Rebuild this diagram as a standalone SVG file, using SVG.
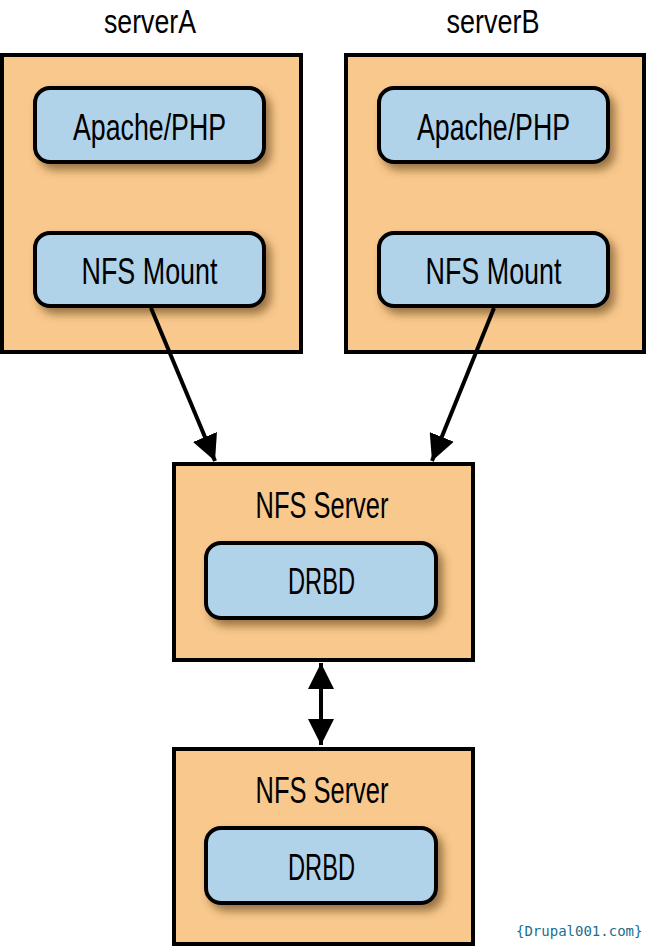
<svg xmlns="http://www.w3.org/2000/svg" width="647" height="947" viewBox="0 0 647 947">
<defs>
<style>
.outer{fill:#f8c88d;stroke:#000;stroke-width:4}
.inner{fill:#b1d3e9;stroke:#000;stroke-width:4;filter:url(#sh)}
.t{font-family:"Liberation Sans",Arial,sans-serif;font-size:36px;fill:#000;text-anchor:middle}
.h{font-family:"Liberation Sans",Arial,sans-serif;font-size:33px;fill:#000;text-anchor:middle}
.ln{stroke:#000;stroke-width:4;fill:none}
.wm{font-family:"DejaVu Sans Mono",monospace;font-size:14px;fill:#1a6e8e}
</style>
<filter id="sh" x="-20%" y="-30%" width="150%" height="180%">
<feDropShadow dx="5" dy="6" stdDeviation="4" flood-color="#5a3a10" flood-opacity="0.6"/>
</filter>
<marker id="ah" viewBox="0 0 10 10" refX="10" refY="5" markerWidth="6.5" markerHeight="6.5" markerUnits="strokeWidth" orient="auto-start-reverse">
<path d="M0,0 L10,5 L0,10 Z" fill="#000"/>
</marker>
</defs>
<g id="serverA">
<text class="h" x="150" y="33" textLength="92" lengthAdjust="spacingAndGlyphs">serverA</text>
<rect class="outer" x="2" y="55" width="299" height="297"/>
<g id="serverA-apache">
<rect class="inner" x="35" y="88" width="229" height="74" rx="15"/>
<text class="t" x="149.5" y="140" textLength="153" lengthAdjust="spacingAndGlyphs">Apache/PHP</text>
</g>
<g id="serverA-nfsmount">
<rect class="inner" x="35" y="233" width="229" height="73" rx="15"/>
<text class="t" x="149.5" y="284" textLength="136" lengthAdjust="spacingAndGlyphs">NFS Mount</text>
</g>
</g>
<g id="serverB">
<text class="h" x="493" y="33" textLength="93" lengthAdjust="spacingAndGlyphs">serverB</text>
<rect class="outer" x="346" y="55" width="298" height="297"/>
<g id="serverB-apache">
<rect class="inner" x="379" y="88" width="229" height="74" rx="15"/>
<text class="t" x="493.5" y="140" textLength="153" lengthAdjust="spacingAndGlyphs">Apache/PHP</text>
</g>
<g id="serverB-nfsmount">
<rect class="inner" x="379" y="233" width="229" height="73" rx="15"/>
<text class="t" x="493.5" y="284" textLength="136" lengthAdjust="spacingAndGlyphs">NFS Mount</text>
</g>
</g>
<g id="nfs1">
<rect class="outer" x="174" y="464" width="299" height="196"/>
<text class="t" x="322" y="518" textLength="133" lengthAdjust="spacingAndGlyphs">NFS Server</text>
<g id="drbd1">
<rect class="inner" x="206" y="543" width="230" height="75" rx="15"/>
<text class="t" x="321.5" y="594" textLength="67" lengthAdjust="spacingAndGlyphs">DRBD</text>
</g>
</g>
<g id="nfs2">
<rect class="outer" x="174" y="749" width="299" height="195"/>
<text class="t" x="322" y="803" textLength="133" lengthAdjust="spacingAndGlyphs">NFS Server</text>
<g id="drbd2">
<rect class="inner" x="206" y="828" width="230" height="75" rx="15"/>
<text class="t" x="321.5" y="880" textLength="67" lengthAdjust="spacingAndGlyphs">DRBD</text>
</g>
</g>
<g id="connectors">
<line class="ln" x1="151" y1="308" x2="215" y2="461" marker-end="url(#ah)"/>
<line class="ln" x1="494" y1="308" x2="432" y2="461" marker-end="url(#ah)"/>
<line class="ln" x1="321" y1="663" x2="321" y2="745" marker-start="url(#ah)" marker-end="url(#ah)"/>
</g>
<text class="wm" x="516" y="936">{Drupal001.com}</text>
</svg>
